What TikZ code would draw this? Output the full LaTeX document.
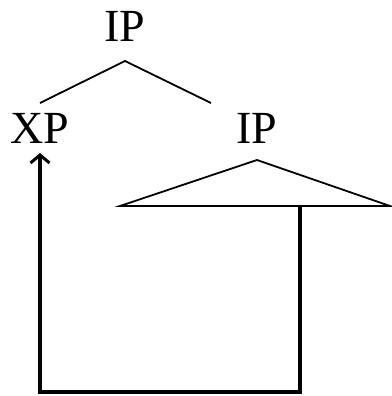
\documentclass[tikz,border=0pt]{standalone}
\usepackage{fontspec}
\setmainfont{Liberation Serif}
\usetikzlibrary{arrows.meta}
\begin{document}
\begin{tikzpicture}[x=1pt,y=-1pt,
  lbl/.style={font=\fontsize{46}{52}\selectfont, inner sep=0pt, anchor=base},
  thin/.style={line width=1.8pt},
  thick/.style={line width=3.4pt}]
\useasboundingbox (0,0) rectangle (391,396);
\node[lbl] (top) at (125,42) {IP};
\node[lbl] (xp) at (40,143) {XP};
\node[lbl] (ip) at (257,143) {IP};
\coordinate (apex) at (125,61);
\coordinate (bl) at (40,103);
\coordinate (br) at (211,103);
\draw[thin] (bl) -- (apex) -- (br);
\coordinate (tA) at (257,160);
\coordinate (tL) at (120,206);
\coordinate (tR) at (390,206);
\draw[thin] (tL) -- (tA) -- (tR) -- cycle;
\coordinate (s) at (300,206);
\coordinate (c1) at (300,392);
\coordinate (c2) at (40,392);
\coordinate (e) at (40,153);
\draw[thick, -{Straight Barb[length=8pt,width=19pt,line width=3pt]}] (s) -- (c1) -- (c2) -- (e);
\end{tikzpicture}
\end{document}
